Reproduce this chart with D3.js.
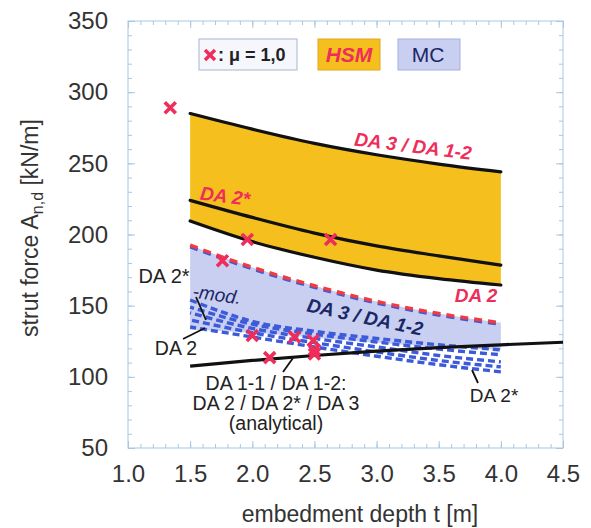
<!DOCTYPE html>
<html><head><meta charset="utf-8">
<script src="https://cdn.jsdelivr.net/npm/d3@7"></script>
<style>body{margin:0;background:#fff}svg{display:block}</style>
</head><body><svg id="c" width="591" height="528"></svg>
<script>
// ---------- data ----------
const tGrid = [1.5, 2.0, 2.5, 3.0, 3.5, 4.0];
const hsmDA3 = [285, 274, 264, 256, 249.5, 244];          // HSM DA 3 / DA 1-2
const hsmDA2star = [224, 212, 201, 192, 185, 178.5];      // HSM DA 2*
const hsmDA2 = [209.5, 195, 184, 175, 169, 164.5];        // HSM DA 2
const mcDA3 = [192.5, 177, 164, 153, 144.5, 138];         // MC DA 3 / DA 1-2
const mcLower = [133, 131, 127.5, 124, 121, 119];         // lower edge of MC band
const mcDA2starMod = [154, 139, 132, 127, 122.5, 119];
const mcDA2a = [149, 137, 130, 124.5, 119.5, 115.5];
const mcDA2b = [145, 134, 127, 121, 115, 110.5];
const mcDA2c = [140, 131, 124, 117.5, 111.5, 107];
const mcDA2star = [135, 128, 121, 114.5, 108.5, 103.5];
const tAnalytical = [1.5, 2.0, 2.5, 3.0, 3.5, 4.0, 4.5];
const analytical = [107.5, 111.5, 115, 118, 120.5, 122.5, 124.3];
const muT = [1.34, 1.96, 2.63, 1.76, 2.0, 2.34, 2.49, 2.14, 2.5, 2.5];
const muA = [289, 196.5, 196.5, 181.6, 129, 128, 125.5, 113.5, 119, 116];
const xTickLabels = [1.0, 1.5, 2.0, 2.5, 3.0, 3.5, 4.0, 4.5];
const yTickLabels = [50, 100, 150, 200, 250, 300, 350];

// ---------- setup ----------
const svg = d3.select("#c");
const FONT = "'Liberation Sans', Arial, sans-serif";
const L = 128, R = 563, T = 21, B = 448;
const x = d3.scaleLinear().domain([1.0, 4.5]).range([L, R]);
const y = d3.scaleLinear().domain([50, 350]).range([B, T]);

const RED = "#ef2d5a", BLUE = "#3d5ad8", NAVY = "#1b2766", YEL = "#f5c01e", LAV = "#c9cff1";

// frame + ticks
const frameCol = "#a7c7e2";
const minorX = d3.range(10, 46).map(v => v / 10);
const minorY = d3.range(50, 351, 10);
function ticks(axisFn, scale, vals, len, tr) {
  const g = svg.append("g").attr("transform", tr)
    .call(axisFn(scale).tickValues(vals).tickSize(len).tickFormat(""));
  g.select(".domain").remove();
  g.selectAll("line").attr("stroke", frameCol).attr("stroke-width", 1);
}
ticks(d3.axisBottom, x, minorX, -4, `translate(0,${B})`);
ticks(d3.axisTop, x, minorX, -4, `translate(0,${T})`);
ticks(d3.axisLeft, y, minorY, -4, `translate(${L},0)`);
ticks(d3.axisRight, y, minorY, -4, `translate(${R},0)`);
ticks(d3.axisBottom, x, xTickLabels, -7, `translate(0,${B})`);
ticks(d3.axisTop, x, xTickLabels, -7, `translate(0,${T})`);
ticks(d3.axisLeft, y, yTickLabels, -7, `translate(${L},0)`);
ticks(d3.axisRight, y, yTickLabels, -7, `translate(${R},0)`);
svg.append("rect").attr("x", L).attr("y", T).attr("width", R - L).attr("height", B - T)
  .attr("fill", "none").attr("stroke", frameCol).attr("stroke-width", 1);

// tick labels
const xa = svg.append("g").attr("transform", `translate(0,${B})`)
  .call(d3.axisBottom(x).tickValues(xTickLabels).tickSize(0).tickPadding(17).tickFormat(d3.format(".1f")));
xa.select(".domain").remove();
xa.selectAll("text").attr("font-family", FONT).attr("font-size", 24).attr("fill", "#333");
const ya = svg.append("g").attr("transform", `translate(${L},0)`)
  .call(d3.axisLeft(y).tickValues(yTickLabels).tickSize(0).tickPadding(20).tickFormat(d3.format("d")));
ya.select(".domain").remove();
ya.selectAll("text").attr("font-family", FONT).attr("font-size", 24).attr("fill", "#333");

// axis titles
svg.append("text").attr("x", 360).attr("y", 522).attr("text-anchor", "middle")
  .attr("font-family", FONT).attr("font-size", 23).attr("fill", "#333").text("embedment depth t [m]");
const yt = svg.append("text").attr("transform", "translate(38,228) rotate(-90)").attr("text-anchor", "middle")
  .attr("font-family", FONT).attr("font-size", 23).attr("fill", "#333");
yt.append("tspan").text("strut force A");
yt.append("tspan").attr("font-size", 16).attr("dy", 5).text("n,d");
yt.append("tspan").attr("dy", -5).text(" [kN/m]");

// ---------- bands ----------
const idx = d3.range(tGrid.length);
const area = (lo, hi) => d3.area().x(i => x(tGrid[i])).y0(i => y(lo[i])).y1(i => y(hi[i])).curve(d3.curveMonotoneX)(idx);
svg.append("path").attr("d", area(hsmDA2, hsmDA3)).attr("fill", YEL);
svg.append("path").attr("d", area(mcLower, mcDA3)).attr("fill", LAV);

const line = (ts, vs) => d3.line().x(i => x(ts[i])).y(i => y(vs[i])).curve(d3.curveMonotoneX)(d3.range(ts.length));

// MC dashed lines
[mcDA2starMod, mcDA2a, mcDA2b, mcDA2c, mcDA2star].forEach((vs, k) => {
  svg.append("path").attr("d", line(tGrid, vs)).attr("fill", "none").attr("stroke", BLUE)
    .attr("stroke-width", 3.4).attr("stroke-dasharray", "7,4").attr("stroke-dashoffset", k * 3);
});
// MC upper (red over blue dashed)
svg.append("path").attr("d", line(tGrid, mcDA3)).attr("transform", "translate(0,1.8)").attr("fill", "none")
  .attr("stroke", BLUE).attr("stroke-width", 3).attr("stroke-dasharray", "8,6");
svg.append("path").attr("d", line(tGrid, mcDA3)).attr("fill", "none")
  .attr("stroke", "#f23a3f").attr("stroke-width", 3.4).attr("stroke-dasharray", "8,6");

// HSM black lines
[hsmDA3, hsmDA2star, hsmDA2].forEach(vs => {
  svg.append("path").attr("d", line(tGrid, vs)).attr("fill", "none").attr("stroke", "#111")
    .attr("stroke-width", 3.2).attr("stroke-linecap", "round");
});
// analytical
svg.append("path").attr("d", line(tAnalytical, analytical)).attr("fill", "none").attr("stroke", "#111")
  .attr("stroke-width", 3.2);

// leaders
const leaders = [[196, 297, 206, 320], [183, 339, 205, 328], [283, 372, 293, 358], [472, 370, 478, 383]];
leaders.forEach(l => svg.append("line").attr("x1", l[0]).attr("y1", l[1]).attr("x2", l[2]).attr("y2", l[3])
  .attr("stroke", "#111").attr("stroke-width", 1.8));

// mu markers
const xs = 5.5;
svg.append("g").selectAll("path").data(d3.range(muT.length)).join("path")
  .attr("d", i => { const cx = x(muT[i]), cy = y(muA[i]);
    return `M${cx - xs},${cy - xs}L${cx + xs},${cy + xs}M${cx - xs},${cy + xs}L${cx + xs},${cy - xs}`; })
  .attr("stroke", RED).attr("stroke-width", 3.6).attr("fill", "none");

// ---------- labels ----------
function lab(txt, cx, cy, opts) {
  return svg.append("text").attr("x", 0).attr("y", 0).attr("dy", "0.35em")
    .attr("transform", `translate(${cx},${cy}) rotate(${opts.rot || 0})`)
    .attr("text-anchor", opts.anchor || "middle").attr("font-family", FONT)
    .attr("font-size", opts.size || 19.5).attr("fill", opts.fill || "#222")
    .attr("font-style", opts.italic ? "italic" : "normal").attr("font-weight", opts.bold ? "bold" : "normal")
    .text(txt);
}
lab("DA 3 / DA 1-2", 413, 146, {rot: 7, fill: RED, italic: true, bold: true, size: 19});
lab("DA 2*", 225, 196, {rot: 7, fill: RED, italic: true, bold: true, size: 19});
lab("DA 2", 476, 295, {fill: RED, italic: true, bold: true, size: 19});
lab("DA 3 / DA 1-2", 365, 317, {rot: 12, fill: NAVY, italic: true, bold: true, size: 19});
lab("DA 2*", 164, 276, {size: 20});
lab("-mod.", 193, 291, {rot: 8, anchor: "start", fill: NAVY, italic: true, size: 19});
lab("DA 2", 176, 348, {size: 19.5});
lab("DA 2*", 494, 395, {size: 19});
lab("DA 1-1 / DA 1-2:", 276, 383, {});
lab("DA 2 / DA 2* / DA 3", 276, 403, {});
lab("(analytical)", 276, 423, {});

// ---------- legend ----------
svg.append("rect").attr("x", 199).attr("y", 39).attr("width", 98).attr("height", 31)
  .attr("fill", "#f5f7fc").attr("stroke", "#b3c1d8").attr("stroke-width", 1.2);
svg.append("path").attr("d", `M${210 - 5},${55 - 5}L${210 + 5},${55 + 5}M${210 - 5},${55 + 5}L${210 + 5},${55 - 5}`)
  .attr("stroke", RED).attr("stroke-width", 3.4);
svg.append("text").attr("x", 218).attr("y", 61).attr("font-family", FONT).attr("font-size", 18)
  .attr("font-weight", "bold").attr("fill", "#222").text(": μ = 1,0");
svg.append("rect").attr("x", 318).attr("y", 39).attr("width", 62).attr("height", 31)
  .attr("fill", YEL).attr("stroke", "#e0a520").attr("stroke-width", 1);
svg.append("text").attr("x", 349).attr("y", 62).attr("text-anchor", "middle").attr("font-family", FONT)
  .attr("font-size", 21).attr("font-weight", "bold").attr("font-style", "italic").attr("fill", RED).text("HSM");
svg.append("rect").attr("x", 398).attr("y", 39).attr("width", 62).attr("height", 31)
  .attr("fill", LAV).attr("stroke", "#a4afe0").attr("stroke-width", 1);
svg.append("text").attr("x", 428).attr("y", 62).attr("text-anchor", "middle").attr("font-family", FONT)
  .attr("font-size", 21).attr("fill", NAVY).text("MC");
</script></body></html>
